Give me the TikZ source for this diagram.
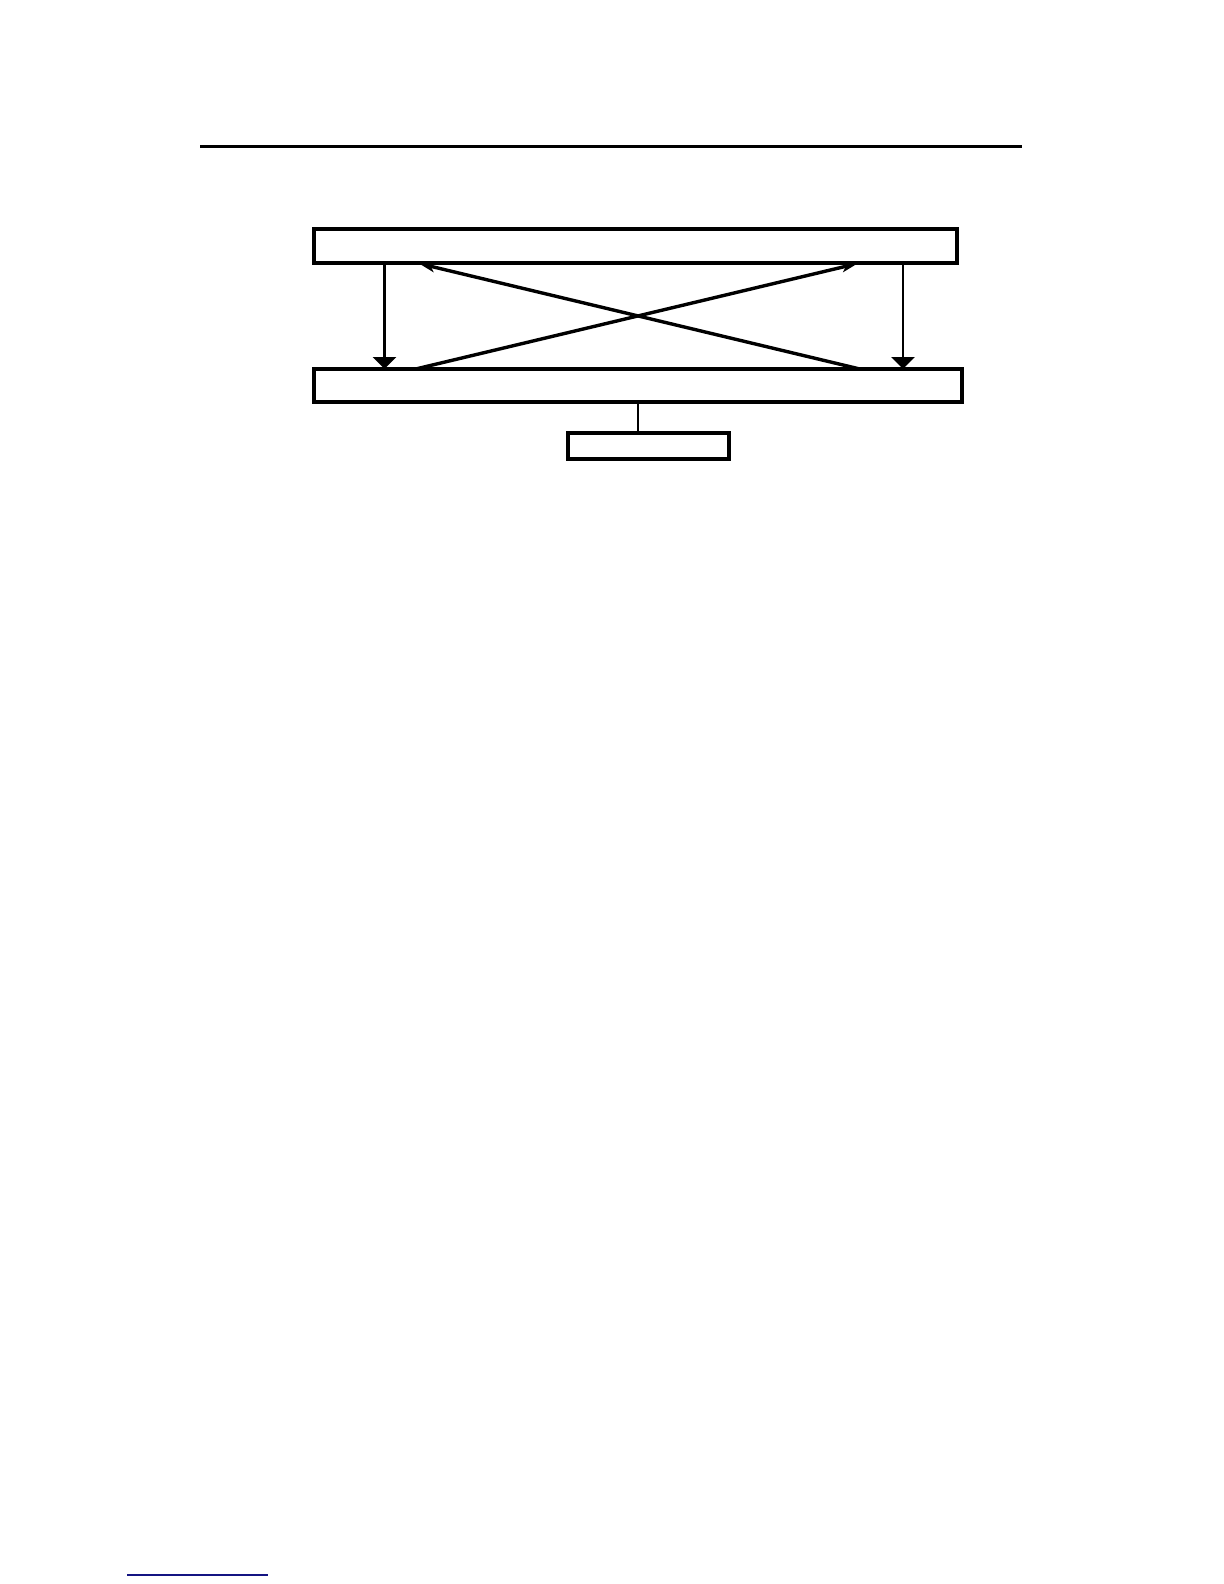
\documentclass[tikz,border=0pt]{standalone}
\usetikzlibrary{arrows.meta}
\begin{document}
\begin{tikzpicture}[x=0.5pt,y=-0.5pt,
  boxstyle/.style={draw=black,line width=1.6pt,rectangle,inner sep=0pt,fill=white},
  vline/.style={line width=1.3pt,-{Triangle[width=11.5pt,length=6pt]}},
  dline/.style={line width=1.7pt,-{Stealth[width=5pt,length=8pt,inset=2pt]}},
  rulestyle/.style={line width=1.3pt}]
\useasboundingbox (0,0) rectangle (1224,1584);
% header rule
\coordinate (r1) at (200,146.5);
\coordinate (r2) at (1022,146.5);
\draw[rulestyle] (r1) -- (r2);
% boxes
\node[boxstyle,minimum width=321.5pt,minimum height=17pt] (top) at (635.5,246) {};
\node[boxstyle,minimum width=324pt,minimum height=16.5pt] (bot) at (638,385.5) {};
\node[boxstyle,minimum width=80.5pt,minimum height=13pt] (small) at (648.5,446) {};
% coordinates on box edges
\coordinate (tl) at (384.5,263);
\coordinate (bl) at (384.5,369);
\coordinate (tr) at (903,263);
\coordinate (br) at (903,369);
\coordinate (d1s) at (415.7,369);
\coordinate (d1e) at (857.6,263.5);
\coordinate (d2s) at (859.8,369);
\coordinate (d2e) at (419,263.5);
% connectors
\draw[vline] (tl) -- (bl);
\draw[vline] (tr) -- (br);
\draw[dline] (d1s) -- (d1e);
\draw[dline] (d2s) -- (d2e);
\draw[line width=1.4pt] (bot.south) -- (bot.south |- small.north);
% footnote rule
\coordinate (f1) at (127,1575);
\coordinate (f2) at (268,1575);
\draw[draw={rgb,255:red,20;green,20;blue,130},line width=0.8pt] (f1) -- (f2);
\end{tikzpicture}
\end{document}
